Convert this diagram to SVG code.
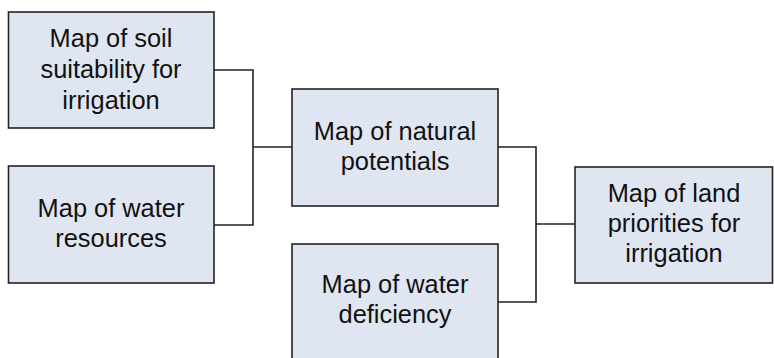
<svg xmlns="http://www.w3.org/2000/svg" width="774" height="358" viewBox="0 0 774 358">
<style>
.box{fill:#dfe6f1;stroke:#222;stroke-width:1.6}
.t{font-family:"Liberation Sans",Arial,sans-serif;font-size:25.4px;fill:#111;text-anchor:middle}
.c{fill:none;stroke:#222;stroke-width:1.6}
</style>
<rect width="774" height="358" fill="#fff"/>
<g id="connectors">
<polyline class="c" points="214,70 253,70 253,225 214,225"/>
<line class="c" x1="253" y1="147" x2="292" y2="147"/>
<polyline class="c" points="498,147 536,147 536,302 498,302"/>
<line class="c" x1="536" y1="224" x2="575" y2="224"/>
</g>
<g id="soil">
<rect class="box" x="8.5" y="12" width="205.5" height="116"/>
<text class="t" x="111" y="46.5">Map of soil</text>
<text class="t" x="111" y="77.5">suitability for</text>
<text class="t" x="111" y="108.5">irrigation</text>
</g>
<g id="water">
<rect class="box" x="8.5" y="166" width="205.5" height="117"/>
<text class="t" x="111" y="216.5">Map of water</text>
<text class="t" x="111" y="246.5">resources</text>
</g>
<g id="natural">
<rect class="box" x="292" y="89" width="206" height="117"/>
<text class="t" x="395" y="140">Map of natural</text>
<text class="t" x="395" y="170">potentials</text>
</g>
<g id="deficiency">
<rect class="box" x="292" y="244" width="206" height="120"/>
<text class="t" x="395" y="293">Map of water</text>
<text class="t" x="395" y="323">deficiency</text>
</g>
<g id="priorities">
<rect class="box" x="575" y="167" width="197.5" height="116"/>
<text class="t" x="674" y="202">Map of land</text>
<text class="t" x="674" y="232">priorities for</text>
<text class="t" x="674" y="262">irrigation</text>
</g>
</svg>
